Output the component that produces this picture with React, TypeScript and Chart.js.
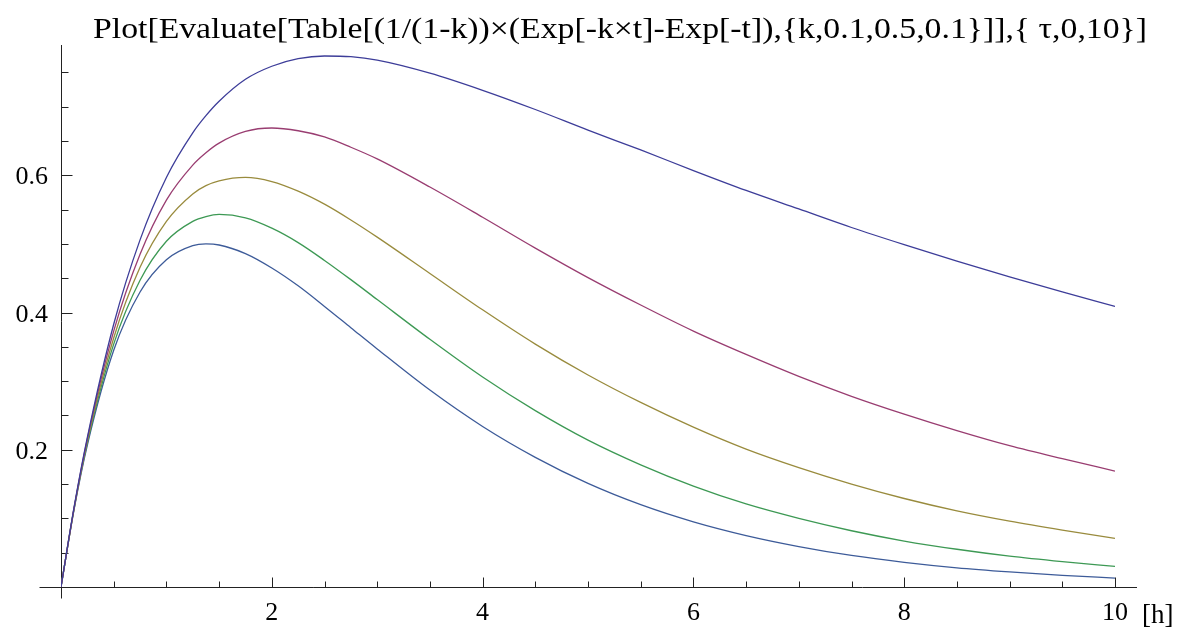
import React, { useEffect, useRef } from "react";
import { Chart, registerables } from "chart.js";

Chart.register(...registerables);

const TITLE =
  "Plot[Evaluate[Table[(1/(1-k))×(Exp[-k×t]-Exp[-t]),{k,0.1,0.5,0.1}]],{ τ,0,10}]";
const X_UNIT = "[h]";

// time samples (h)
const tValues = [
  0, 0.125, 0.25, 0.5, 0.75, 1, 1.25, 1.375, 1.5, 1.75, 2, 2.25, 2.5, 2.75, 3,
  3.5, 4, 4.5, 5, 5.5, 6, 6.5, 7, 7.5, 8, 8.5, 9, 9.5, 10,
];

const seriesK01 = [
  0, 0.117, 0.218, 0.383, 0.506, 0.597, 0.662, 0.687, 0.708, 0.74, 0.759, 0.77,
  0.774, 0.773, 0.768, 0.749, 0.724, 0.696, 0.666, 0.637, 0.607, 0.578, 0.551,
  0.524, 0.499, 0.475, 0.452, 0.43, 0.409,
];
const seriesK02 = [
  0, 0.116, 0.216, 0.373, 0.485, 0.564, 0.615, 0.633, 0.647, 0.664, 0.669,
  0.665, 0.656, 0.641, 0.624, 0.583, 0.539, 0.494, 0.451, 0.411, 0.373, 0.339,
  0.307, 0.278, 0.252, 0.228, 0.206, 0.187, 0.169,
];
const seriesK03 = [
  0, 0.115, 0.213, 0.363, 0.466, 0.533, 0.573, 0.585, 0.592, 0.597, 0.591,
  0.577, 0.558, 0.535, 0.51, 0.457, 0.404, 0.354, 0.309, 0.269, 0.233, 0.201,
  0.174, 0.15, 0.129, 0.111, 0.096, 0.083, 0.071,
];
const seriesK04 = [
  0, 0.115, 0.21, 0.354, 0.447, 0.504, 0.533, 0.54, 0.543, 0.538, 0.523, 0.502,
  0.476, 0.448, 0.419, 0.361, 0.306, 0.257, 0.214, 0.178, 0.147, 0.121, 0.1,
  0.082, 0.067, 0.055, 0.045, 0.037, 0.03,
];
const seriesK05 = [
  0, 0.114, 0.207, 0.345, 0.43, 0.477, 0.4975, 0.5, 0.4985, 0.486, 0.465, 0.439,
  0.409, 0.378, 0.347, 0.287, 0.234, 0.189, 0.151, 0.12, 0.095, 0.075, 0.059,
  0.046, 0.036, 0.028, 0.022, 0.017, 0.013,
];

const seriesLabels = ["k=0.1", "k=0.2", "k=0.3", "k=0.4", "k=0.5"];
const seriesColors = ["#3D3D99", "#993D71", "#998B3D", "#3D9954", "#3D5B99"];

const xTickLabels = [2, 4, 6, 8, 10];
const yTickLabels = [0.2, 0.4, 0.6];
const xMinorStep = 0.5;
const yMinorStep = 0.05;
const X_MIN = 0;
const X_MAX = 10;
const Y_MIN = 0;
const Y_MAX = 0.79;

const SERIF = "'Liberation Serif', 'Times New Roman', Times, serif";

const mmaPlugin = {
  id: "mmaAxes",
  beforeDatasetsDraw(chart: any) {
    const { ctx, chartArea } = chart;
    const xs = chart.scales.x;
    const ys = chart.scales.y;
    const x0 = Math.round(xs.getPixelForValue(0)) + 0.5;
    const y0 = Math.round(ys.getPixelForValue(0)) + 0.5;
    const xEnd = xs.getPixelForValue(X_MAX);
    ctx.save();
    ctx.strokeStyle = "#222";
    ctx.lineWidth = 1;
    ctx.beginPath();
    // x axis
    ctx.moveTo(x0 - 22, y0);
    ctx.lineTo(xEnd + 22, y0);
    // y axis
    ctx.moveTo(x0, chartArea.top);
    ctx.lineTo(x0, y0 + 11);
    ctx.stroke();

    ctx.beginPath();
    for (let v = xMinorStep; v <= X_MAX + 1e-9; v += xMinorStep) {
      const px = Math.round(xs.getPixelForValue(v)) + 0.5;
      const major = xTickLabels.some((t) => Math.abs(t - v) < 1e-6);
      ctx.moveTo(px, y0);
      ctx.lineTo(px, y0 - (major ? 10 : 6));
    }
    for (let v = yMinorStep; v <= Y_MAX + 1e-9; v += yMinorStep) {
      const py = Math.round(ys.getPixelForValue(v)) + 0.5;
      const major = yTickLabels.some((t) => Math.abs(t - v) < 1e-6);
      ctx.moveTo(x0, py);
      ctx.lineTo(x0 + (major ? 11 : 7), py);
    }
    ctx.stroke();
    ctx.restore();
  },
  afterDraw(chart: any) {
    const { ctx } = chart;
    const xs = chart.scales.x;
    const ys = chart.scales.y;
    const x0 = xs.getPixelForValue(0);
    const y0 = ys.getPixelForValue(0);
    ctx.save();
    ctx.fillStyle = "#000";
    ctx.textBaseline = "alphabetic";

    // tick labels
    ctx.font = `26px ${SERIF}`;
    ctx.textAlign = "center";
    xTickLabels.forEach((v) => {
      ctx.fillText(String(v), xs.getPixelForValue(v), y0 + 33);
    });
    ctx.textAlign = "right";
    yTickLabels.forEach((v) => {
      ctx.fillText(v.toFixed(1), x0 - 13, ys.getPixelForValue(v) + 9);
    });

    // unit label
    ctx.textAlign = "left";
    ctx.font = `27px ${SERIF}`;
    ctx.fillText(X_UNIT, xs.getPixelForValue(X_MAX) + 27, y0 + 36);

    // title, stretched to the reference width
    ctx.font = `30px ${SERIF}`;
    const w = ctx.measureText(TITLE).width;
    const target = 1054;
    const sx = target / w;
    ctx.translate(620, 38);
    ctx.scale(sx, 1);
    ctx.textAlign = "center";
    ctx.fillText(TITLE, 0, 0);
    ctx.restore();
  },
};

export default function App() {
  const canvasRef = useRef<HTMLCanvasElement | null>(null);

  useEffect(() => {
    const canvas = canvasRef.current;
    if (!canvas) return;
    const allSeries = [seriesK01, seriesK02, seriesK03, seriesK04, seriesK05];
    const chart = new Chart(canvas, {
      type: "line",
      data: {
        datasets: allSeries.map((s, i) => ({
          label: seriesLabels[i],
          data: s.map((y, j) => ({ x: tValues[j], y })),
          borderColor: seriesColors[i],
          backgroundColor: seriesColors[i],
          borderWidth: 1.3,
          pointRadius: 0,
          cubicInterpolationMode: "monotone",
          fill: false,
        })),
      },
      options: {
        animation: false,
        responsive: false,
        layout: { padding: { top: 45, right: 76, left: 0, bottom: 0 } },
        plugins: {
          legend: { display: false },
          title: { display: false },
          tooltip: { enabled: false },
        },
        scales: {
          x: {
            type: "linear",
            min: X_MIN,
            max: X_MAX,
            grid: { display: false, drawTicks: false },
            border: { display: false },
            ticks: { display: false },
            afterFit: (s: any) => {
              s.height = 48;
            },
            afterBuildTicks: (s: any) => {
              s.ticks = xTickLabels.map((v) => ({ value: v }));
            },
          },
          y: {
            type: "linear",
            min: Y_MIN,
            max: Y_MAX,
            grid: { display: false, drawTicks: false },
            border: { display: false },
            ticks: { display: false },
            afterFit: (s: any) => {
              s.width = 61;
            },
            afterBuildTicks: (s: any) => {
              s.ticks = yTickLabels.map((v) => ({ value: v }));
            },
          },
        },
      },
      plugins: [mmaPlugin],
    });
    return () => chart.destroy();
  }, []);

  return (
    <div style={{ position: "fixed", left: 0, top: 0, width: 1191, height: 635, background: "#fff" }}>
      <canvas ref={canvasRef} width={1191} height={635} style={{ display: "block" }} />
    </div>
  );
}
